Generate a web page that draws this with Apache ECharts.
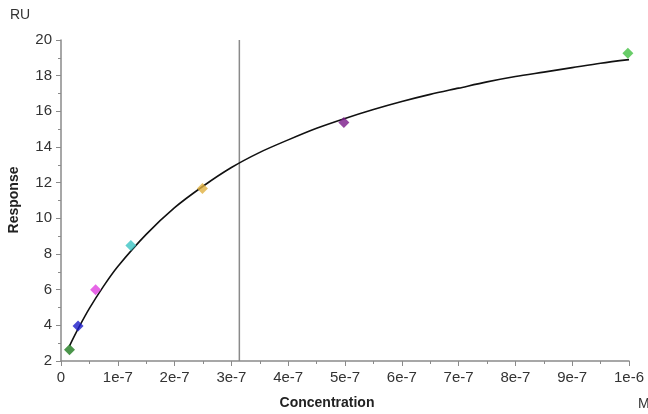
<!DOCTYPE html>
<html><head><meta charset="utf-8">
<script src="https://cdn.jsdelivr.net/npm/echarts@6/dist/echarts.min.js"></script>
<style>html,body{margin:0;padding:0;background:#fff}#c{width:648px;height:414px}</style>
</head><body><div id="c"></div>
<script>
// Measured points (concentration in M, response in RU)
const pointConc = [1.5e-8, 3.0e-8, 6.1e-8, 1.23e-7, 2.49e-7, 4.98e-7, 9.98e-7];
const pointResp = [2.63, 3.96, 6.0, 8.47, 11.67, 15.38, 19.26];
const pointColors = ['#1e7a1e', '#1a1ac8', '#e040e0', '#3cc4c4', '#e0b040', '#7a1a8a', '#44c044'];
// Fit curve
const curveConc = [1.5e-8, 3e-8, 5e-8, 7.5e-8, 1e-7, 1.5e-7, 2e-7, 2.5e-7, 3e-7, 3.5e-7, 4e-7, 4.5e-7, 5e-7, 5.5e-7, 6e-7, 6.5e-7, 7e-7, 7.5e-7, 8e-7, 8.5e-7, 9e-7, 9.5e-7, 1e-6];
const curveResp = [2.85, 3.8, 4.95, 6.2, 7.3, 9.1, 10.6, 11.8, 12.85, 13.7, 14.4, 15.05, 15.6, 16.1, 16.55, 16.95, 17.3, 17.65, 17.95, 18.2, 18.45, 18.7, 18.9];
// Vertical marker line (KD)
const kdLine = 3.14e-7;
const kdSpan = [2, 20];
const xTickLabels = ['0','1e-7','2e-7','3e-7','4e-7','5e-7','6e-7','7e-7','8e-7','9e-7','1e-6'];

const chart = echarts.init(document.getElementById('c'));
const axisGrey = '#8a8a8a';
const lblFont = {fontFamily:'Liberation Sans, Arial, sans-serif', fontSize:15, color:'#333'};
chart.setOption({
  animation:false,
  grid:{left:61, right:19, top:40, bottom:53},
  xAxis:{
    type:'value', min:0, max:1e-6, interval:1e-7,
    axisLine:{show:true, lineStyle:{color:axisGrey, width:1.5}},
    axisTick:{show:true, length:5, lineStyle:{color:axisGrey}},
    minorTick:{show:true, splitNumber:2, length:3, lineStyle:{color:axisGrey}},
    splitLine:{show:false},
    axisLabel:Object.assign({margin:9, formatter:v=>xTickLabels[Math.round(v*1e7)]}, lblFont)
  },
  yAxis:{
    type:'value', min:2, max:20, interval:2,
    axisLine:{show:true, lineStyle:{color:axisGrey, width:1.5}},
    axisTick:{show:true, length:5, lineStyle:{color:axisGrey}},
    minorTick:{show:true, splitNumber:2, length:3, lineStyle:{color:axisGrey}},
    splitLine:{show:false},
    axisLabel:Object.assign({margin:9}, lblFont)
  },
  graphic:[
    {type:'text', left:10, top:8, style:{text:'RU', font:'14px "Liberation Sans", Arial, sans-serif', fill:'#333'}},
    {type:'text', x:14, y:200, rotation:Math.PI/2, style:{text:'Response', font:'bold 14px "Liberation Sans", Arial, sans-serif', fill:'#222', align:'center', verticalAlign:'middle'}},
    {type:'text', x:327, y:403, style:{text:'Concentration', font:'bold 14px "Liberation Sans", Arial, sans-serif', fill:'#222', align:'center', verticalAlign:'middle'}},
    {type:'text', x:638, y:404, style:{text:'M', font:'14px "Liberation Sans", Arial, sans-serif', fill:'#333', align:'left', verticalAlign:'middle'}}
  ],
  series:[
    {
      type:'line', data:kdSpan.map(v=>[kdLine, v]), symbol:'none',
      lineStyle:{color:'#8a8a8a', width:1.5}, z:2, silent:true
    },
    {
      type:'line', data:curveConc.map((c,i)=>[c,curveResp[i]]), smooth:0.3, symbol:'none',
      lineStyle:{color:'#111', width:1.6}, z:3
    },
    {
      type:'scatter', symbol:'diamond', symbolSize:11, z:4,
      data:pointConc.map((c,i)=>({value:[c,pointResp[i]], itemStyle:{color:pointColors[i]}}))
    }
  ]
});
</script></body></html>
